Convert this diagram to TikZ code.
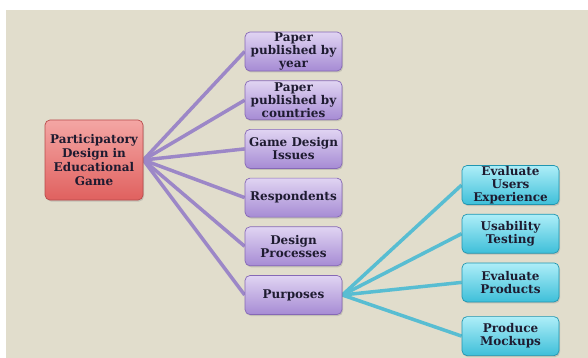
\documentclass[tikz,border=0pt]{standalone}
\usepackage{fontspec}
\setmainfont{DejaVu Serif}
\usetikzlibrary{positioning,shadows,backgrounds}
\definecolor{bgcol}{HTML}{E1DDCC}
\definecolor{redtop}{HTML}{F4A6A4}
\definecolor{redbot}{HTML}{E0615F}
\definecolor{redbd}{HTML}{B84B4B}
\definecolor{purtop}{HTML}{E0D4F2}
\definecolor{purbot}{HTML}{A68BD4}
\definecolor{purbd}{HTML}{8668B6}
\definecolor{cyntop}{HTML}{AEEEF8}
\definecolor{cynbot}{HTML}{3EBFD9}
\definecolor{cynbd}{HTML}{2096B0}
\definecolor{purln}{HTML}{9C87C7}
\definecolor{cynln}{HTML}{58BDD2}
\definecolor{txtcol}{HTML}{1E1B30}
\tikzset{
  blk/.style={rectangle, rounded corners=5pt, line width=0.7pt, align=center, text=txtcol,
    font=\fontsize{12}{13}\selectfont\bfseries, inner sep=0pt,
    drop shadow={shadow xshift=1pt, shadow yshift=-1.5pt, opacity=0.3}},
  mainblk/.style={blk, draw=redbd, top color=redtop, bottom color=redbot, minimum width=98pt, minimum height=80pt,
    font=\fontsize{12}{14}\selectfont\bfseries},
  tblk/.style={blk, draw=purbd, top color=purtop, bottom color=purbot, minimum width=97pt, minimum height=39pt},
  pblk/.style={blk, draw=cynbd, top color=cyntop, bottom color=cynbot, minimum width=97pt, minimum height=39pt},
  ln/.style={line width=3.5pt, purln},
  pln/.style={line width=3.5pt, cynln},
}

\begin{document}
\begin{tikzpicture}[x=1pt, y=-1pt, node distance=9pt]

\useasboundingbox (0,0) rectangle (588,358);
\begin{scope}[on background layer]
  \fill[bgcol] (6,10) rectangle (588,358);
\end{scope}

\node[mainblk] (pdeg) at (94,160) {Participatory\\Design in\\Educational\\Game};

\node[tblk] (year) at (293.5,51.5) {Paper\\published by\\year};
\node[tblk, below=of year] (country) {Paper\\published by\\countries};
\node[tblk, below=of country] (issues) {Game Design\\Issues};
\node[tblk, below=of issues] (resp) {Respondents};
\node[tblk, below=of resp] (process) {Design\\Processes};
\node[tblk, below=of process] (purpose) {Purposes};

\node[pblk] (ux) at (510.5,185) {Evaluate\\Users\\Experience};
\node[pblk, below=of ux] (usab) {Usability\\Testing};
\node[pblk, below=of usab] (prod) {Evaluate\\Products};
\node[pblk, below=14pt of prod] (mock) {Produce\\Mockups};

\begin{scope}[on background layer]
  \foreach \t in {year,country,issues,resp,process,purpose}
    \draw[ln] (pdeg.east) -- (\t.west);
  \foreach \t in {ux,usab,prod,mock}
    \draw[pln] (purpose.east) -- (\t.west);
\end{scope}

\end{tikzpicture}
\end{document}
